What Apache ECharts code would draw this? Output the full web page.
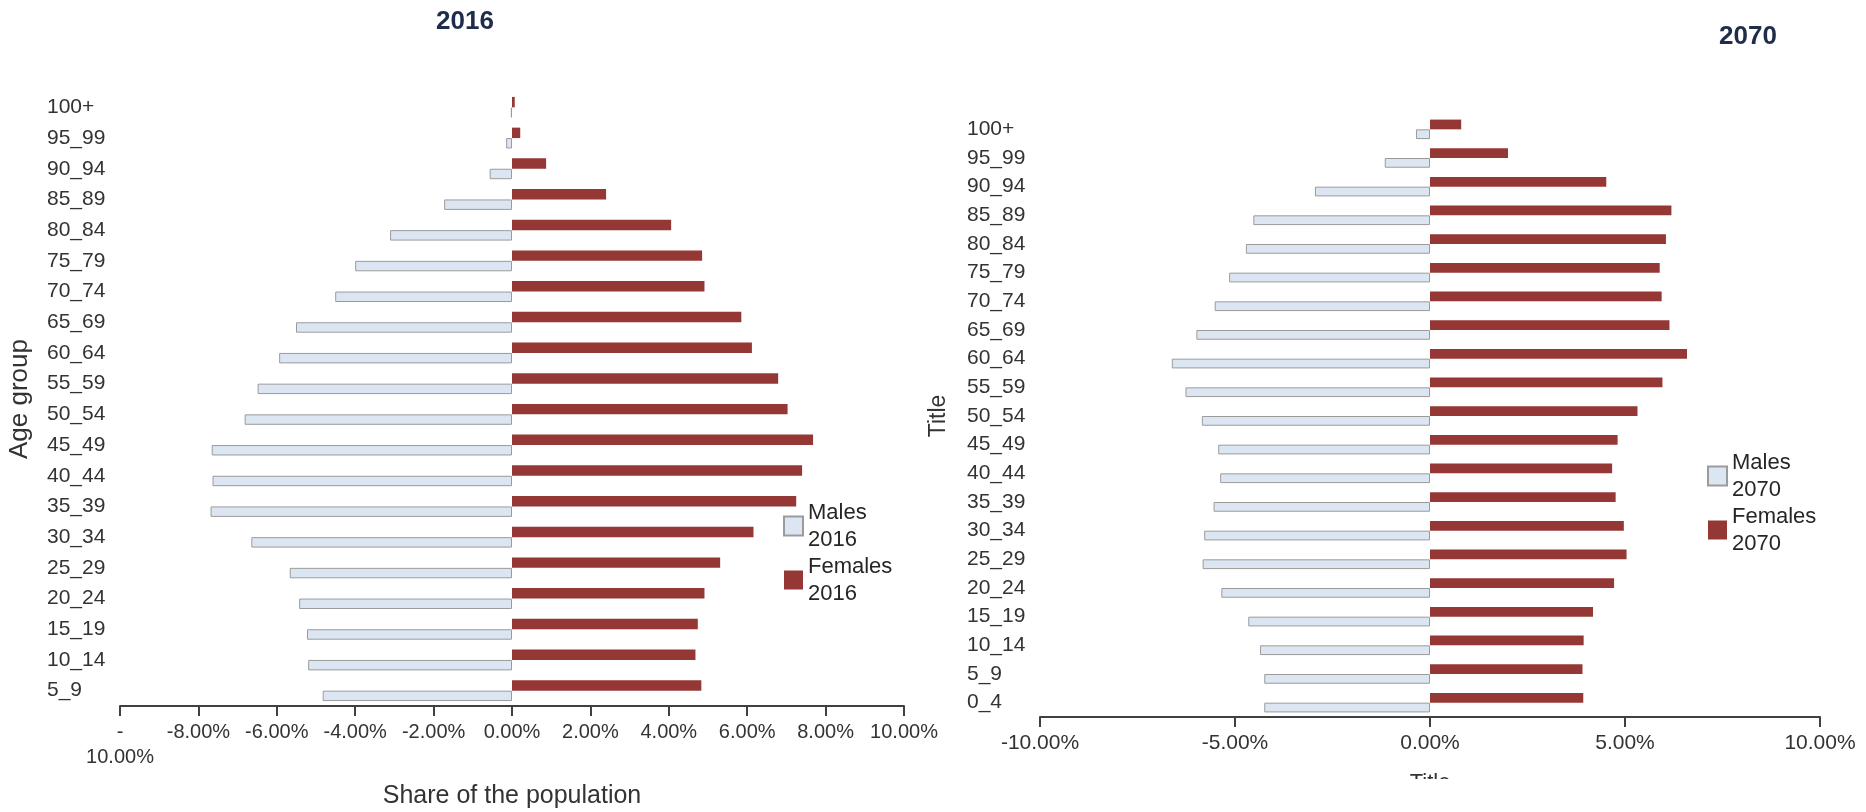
<!DOCTYPE html>
<html><head><meta charset="utf-8">
<script src="https://cdn.jsdelivr.net/npm/echarts@6/dist/echarts.min.js"></script>
<style>
html,body{margin:0;padding:0;background:#fff;width:1866px;height:812px;overflow:hidden}
#c1{position:absolute;left:0;top:0;width:945px;height:812px}
#c2{position:absolute;left:900px;top:0;width:966px;height:779px}
</style></head><body>
<div id="c1"></div><div id="c2"></div>
<script>
// ---- data (bottom to top) ----
const ageGroups2016 = ['5_9','10_14','15_19','20_24','25_29','30_34','35_39','40_44','45_49','50_54','55_59','60_64','65_69','70_74','75_79','80_84','85_89','90_94','95_99','100+'];
const males2016   = [-4.83,-5.20,-5.23,-5.43,-5.67,-6.65,-7.69,-7.64,-7.66,-6.82,-6.49,-5.94,-5.51,-4.51,-4.00,-3.11,-1.73,-0.57,-0.15,-0.03];
const females2016 = [4.83,4.68,4.74,4.91,5.31,6.16,7.25,7.40,7.68,7.03,6.79,6.12,5.85,4.91,4.85,4.06,2.40,0.87,0.21,0.07];

const ageGroups2070 = ['0_4','5_9','10_14','15_19','20_24','25_29','30_34','35_39','40_44','45_49','50_54','55_59','60_64','65_69','70_74','75_79','80_84','85_89','90_94','95_99','100+'];
const males2070   = [-4.25,-4.25,-4.36,-4.66,-5.35,-5.83,-5.79,-5.55,-5.38,-5.43,-5.85,-6.27,-6.62,-5.99,-5.52,-5.15,-4.72,-4.53,-2.95,-1.16,-0.36];
const females2070 = [3.93,3.91,3.94,4.18,4.72,5.04,4.97,4.76,4.67,4.81,5.32,5.96,6.59,6.14,5.94,5.89,6.05,6.19,4.52,2.00,0.80];

const seriesNames2016 = ['Males 2016','Females 2016'];
const seriesNames2070 = ['Males 2070','Females 2070'];
const ticks2016 = {min:-10, max:10, interval:2};
const ticks2070 = {min:-10, max:10, interval:5};

const FONT = '"Liberation Sans", Arial, sans-serif';
const TXT = '#333333';
const MALE_FILL = '#dce6f2';
const MALE_BORDER = '#9b9b9b';
const FEMALE_FILL = '#953735';

function build(cfg){
  return {
    animation:false,
    textStyle:{fontFamily:FONT},
    title:{text:cfg.title, left:cfg.titleLeft, top:cfg.titleTop, padding:0,
      textStyle:{fontSize:26, fontWeight:'bold', color:'#1f2d4a', fontFamily:FONT}},
    legend:{
      orient:'vertical', left:cfg.legLeft, top:cfg.legTop, itemGap:0, padding:0,
      itemWidth:19, itemHeight:19, icon:'rect',
      data:cfg.names,
      formatter:n=>n.replace(' ','\n'),
      textStyle:{fontSize:22, lineHeight:27, color:'#262626', fontFamily:FONT}
    },
    grid:{left:cfg.gl, top:cfg.gt, width:cfg.gw, height:cfg.gh, containLabel:false, outerBoundsMode:'none'},
    xAxis:{
      type:'value', min:cfg.ticks.min, max:cfg.ticks.max, interval:cfg.ticks.interval,
      name:cfg.xName, nameLocation:'middle', nameGap:cfg.xNameGap,
      nameTextStyle:{fontSize:cfg.xNameSize, color:TXT, fontFamily:FONT},
      axisLine:{show:true, lineStyle:{color:'#404040', width:2}},
      axisTick:{show:true, length:10, lineStyle:{color:'#404040', width:2}},
      splitLine:{show:false},
      axisLabel:{fontSize:cfg.tickSize, color:TXT, margin:14, lineHeight:25, fontFamily:FONT,
        formatter:v=>{
          if(cfg.wrapMin && v===cfg.ticks.min) return '-\n'+Math.abs(v).toFixed(2)+'%';
          return v.toFixed(2)+'%';
        }}
    },
    yAxis:{
      type:'category', data:cfg.cats,
      name:cfg.yName, nameLocation:'middle', nameRotate:90, nameGap:cfg.yNameGap,
      nameTextStyle:{fontSize:cfg.yNameSize, color:TXT, fontFamily:FONT},
      axisLine:{show:false}, axisTick:{show:false}, splitLine:{show:false},
      axisLabel:{align:'left', margin:cfg.labelMargin, fontSize:21, color:TXT, fontFamily:FONT}
    },
    series:[
      {name:cfg.names[1], type:'bar', data:cfg.females, barGap:'0%', barCategoryGap:'32%',
        itemStyle:{color:FEMALE_FILL}},
      {name:cfg.names[0], type:'bar', data:cfg.males, barGap:'0%', barCategoryGap:'32%',
        itemStyle:{color:MALE_FILL, borderColor:MALE_BORDER, borderWidth:1}}
    ]
  };
}

const c1 = echarts.init(document.getElementById('c1'), null, {renderer:'canvas'});
c1.setOption(build({
  title:'2016', titleLeft:436, titleTop:9,
  legLeft:783, legTop:499, names:seriesNames2016,
  gl:120, gt:92, gw:784, gh:614,
  ticks:ticks2016, wrapMin:true, tickSize:20,
  xName:'Share of the population', xNameGap:78, xNameSize:25,
  yName:'Age group', yNameGap:87, yNameSize:26,
  labelMargin:73, cats:ageGroups2016, males:males2016, females:females2016
}));

const c2 = echarts.init(document.getElementById('c2'), null, {renderer:'canvas'});
c2.setOption(build({
  title:'2070', titleLeft:819, titleTop:24,
  legLeft:807, legTop:449, names:seriesNames2070,
  gl:140, gt:115, gw:780, gh:602,
  ticks:ticks2070, wrapMin:false, tickSize:21,
  xName:'Title', xNameGap:55, xNameSize:22,
  yName:'Title', yNameGap:90, yNameSize:23,
  labelMargin:73, cats:ageGroups2070, males:males2070, females:females2070
}));
</script>
</body></html>
